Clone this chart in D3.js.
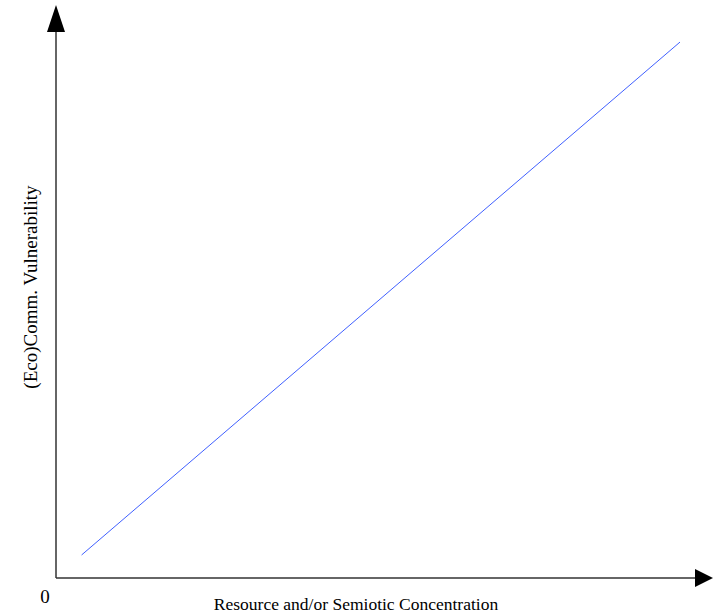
<!DOCTYPE html>
<html><head><meta charset="utf-8">
<script src="https://cdn.jsdelivr.net/npm/d3@7"></script>
<style>body{margin:0;background:#fff}svg{display:block}</style>
</head><body>
<script>
const xValues = [4.0, 97.5];
const yValues = [4.2, 97.8];
const xLabel = "Resource and/or Semiotic Concentration";
const yLabel = "(Eco)Comm. Vulnerability";
const originLabel = "0";

const W = 713, H = 616;
const svg = d3.select("body").append("svg").attr("width", W).attr("height", H);
const x = d3.scaleLinear().domain([0, 100]).range([56, 696]);
const y = d3.scaleLinear().domain([0, 100]).range([578, 30]);

const axisColor = "#333";
// y axis
svg.append("line").attr("x1", x(0)).attr("x2", x(0)).attr("y1", y(0)).attr("y2", 28)
  .attr("stroke", axisColor).attr("stroke-width", 1.5);
svg.append("path").attr("d", `M${x(0)},5 L${x(0)-9},32 L${x(0)+9},32 Z`).attr("fill", "#000");
// x axis
svg.append("line").attr("x1", x(0)).attr("x2", 698).attr("y1", y(0)).attr("y2", y(0))
  .attr("stroke", axisColor).attr("stroke-width", 1.5);
svg.append("path").attr("d", `M713,${y(0)} L695,${y(0)-9} L695,${y(0)+9} Z`).attr("fill", "#000");

const pts = xValues.map((v, i) => [v, yValues[i]]);
svg.append("path").datum(pts)
  .attr("d", d3.line().x(d => x(d[0])).y(d => y(d[1])))
  .attr("fill", "none").attr("stroke", "#4060ff").attr("stroke-width", 1);

const font = "'Liberation Serif', 'Times New Roman', serif";
svg.append("text").attr("x", 45).attr("y", 603).attr("text-anchor", "middle")
  .style("font-family", font).style("font-size", "19px").text(originLabel);
svg.append("text").attr("x", 356).attr("y", 610).attr("text-anchor", "middle")
  .style("font-family", font).style("font-size", "17.5px").text(xLabel);
svg.append("text").attr("transform", "translate(37,287) rotate(-90)").attr("text-anchor", "middle")
  .style("font-family", font).style("font-size", "19px").text(yLabel);
</script>
</body></html>
